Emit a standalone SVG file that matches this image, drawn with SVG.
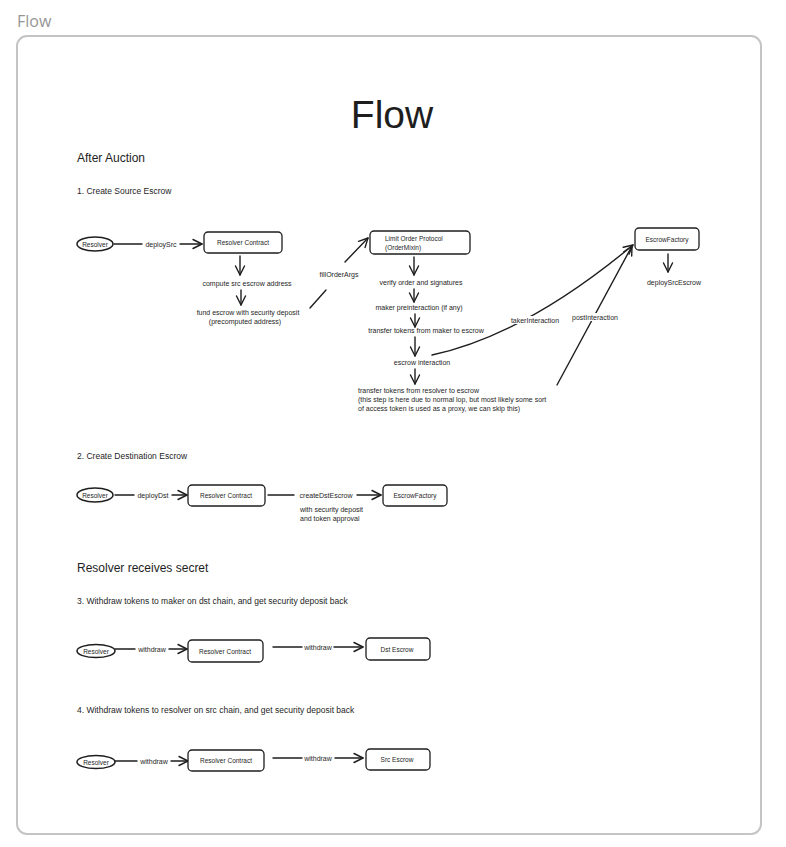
<svg xmlns="http://www.w3.org/2000/svg" width="786" height="847" viewBox="0 0 786 847">
<defs>
<marker id="arr" markerUnits="userSpaceOnUse" markerWidth="12" markerHeight="12" refX="10" refY="6" orient="auto">
<path d="M1,1.5 L10,6 L1,10.5" fill="none" stroke="#1e1e1e" stroke-width="1.4" stroke-linecap="round" stroke-linejoin="round"/>
</marker>
<style>
text{font-family:"Liberation Sans",Arial,sans-serif;fill:#1e1e1e}
.box{fill:#fff;stroke:#1e1e1e;stroke-width:1.3}
.ell{fill:#fff;stroke:#1e1e1e;stroke-width:1.5}
.nl{font-size:6.5px;text-anchor:middle}
.el{font-size:7px;text-anchor:middle}
.tl{font-size:7px}
.ln{fill:none;stroke:#1e1e1e;stroke-width:1.4;stroke-linecap:round}
.ar{fill:none;stroke:#1e1e1e;stroke-width:1.4;stroke-linecap:round;marker-end:url(#arr)}
.h2{font-size:12px}
.h3{font-size:8.5px}
.bg{fill:#fff}
</style>
</defs>
<rect width="786" height="847" fill="#fff"/>
<text x="17" y="27" style="font-family:'Open Sans','Liberation Sans',sans-serif;font-size:16px;fill:#959595">Flow</text>
<rect x="17" y="36" width="744" height="798" rx="10" fill="#fff" stroke="#c4c4c4" stroke-width="2"/>

<text x="392" y="128" style="font-size:39px;text-anchor:middle">Flow</text>
<text x="77" y="162" class="h2">After Auction</text>
<text x="77" y="194" class="h3">1. Create Source Escrow</text>
<text x="77" y="459" class="h3">2. Create Destination Escrow</text>
<text x="77" y="572" class="h2">Resolver receives secret</text>
<text x="77" y="604" class="h3">3. Withdraw tokens to maker on dst chain, and get security deposit back</text>
<text x="77" y="713" class="h3">4. Withdraw tokens to resolver on src chain, and get security deposit back</text>

<g id="connectors">
<!-- section 1 -->
<line class="ln" x1="114" y1="244" x2="142" y2="244"/>
<text class="el" x="161" y="246.5">deploySrc</text>
<line class="ar" x1="180" y1="244" x2="202" y2="244"/>
<line class="ar" x1="240" y1="256" x2="240" y2="275"/>
<text class="el" x="247" y="285.5">compute src escrow address</text>
<line class="ar" x1="241" y1="290" x2="241" y2="305"/>
<text class="el" x="248" y="315">fund escrow with security deposit</text>
<text class="el" x="245" y="324">(precomputed address)</text>
<line class="ln" x1="310" y1="308" x2="326" y2="290"/>
<text class="el" x="339" y="276.5">fillOrderArgs</text>
<line class="ar" x1="345" y1="262" x2="368" y2="238"/>
<line class="ar" x1="414" y1="257" x2="414" y2="275"/>
<text class="el" x="421" y="285">verify order and signatures</text>
<line class="ar" x1="414" y1="289" x2="414" y2="302"/>
<text class="el" x="419" y="309.5">maker preinteraction (if any)</text>
<line class="ar" x1="415" y1="314" x2="415" y2="327"/>
<text class="el" x="426" y="332.5">transfer tokens from maker to escrow</text>
<line class="ar" x1="415" y1="337" x2="415" y2="356"/>
<text class="el" x="422" y="364.5">escrow interaction</text>
<line class="ar" x1="415" y1="369" x2="415" y2="384"/>
<text class="tl" x="358" y="392.5">transfer tokens from resolver to escrow</text>
<text class="tl" x="358" y="401.5">(this step is here due to normal lop, but most likely some sort</text>
<text class="tl" x="358" y="410.5">of access token is used as a proxy, we can skip this)</text>
<path class="ar" d="M432,355 Q525,335 633,245"/>
<rect class="bg" x="507" y="316" width="57" height="8"/>
<text class="el" x="535" y="322.5">takerInteraction</text>
<line class="ar" x1="557" y1="385" x2="632" y2="246"/>
<rect class="bg" x="568" y="313" width="55" height="8"/>
<text class="el" x="595" y="319.5">postInteraction</text>
<line class="ar" x1="668" y1="254" x2="668" y2="272"/>
<text class="el" x="674" y="285">deploySrcEscrow</text>

<!-- section 2 -->
<line class="ln" x1="115" y1="495" x2="134" y2="495"/>
<text class="el" x="153" y="497.5">deployDst</text>
<line class="ar" x1="172" y1="495" x2="187" y2="495"/>
<line class="ln" x1="268" y1="495" x2="294" y2="495"/>
<text class="el" x="326" y="497.5">createDstEscrow</text>
<line class="ar" x1="357" y1="495" x2="381" y2="495"/>
<text class="tl" x="300" y="512">with security deposit</text>
<text class="tl" x="300" y="521">and token approval</text>

<!-- section 3 -->
<line class="ln" x1="115" y1="649" x2="135" y2="649"/>
<text class="el" x="152" y="651.5">withdraw</text>
<line class="ar" x1="169" y1="649" x2="187" y2="649"/>
<line class="ln" x1="273" y1="647" x2="302" y2="647"/>
<text class="el" x="318" y="649.5">withdraw</text>
<line class="ar" x1="334" y1="647" x2="363" y2="647"/>

<!-- section 4 -->
<line class="ln" x1="115" y1="761" x2="137" y2="761"/>
<text class="el" x="154" y="763.5">withdraw</text>
<line class="ar" x1="171" y1="761" x2="188" y2="761"/>
<line class="ln" x1="273" y1="758" x2="302" y2="758"/>
<text class="el" x="318" y="760.5">withdraw</text>
<line class="ar" x1="335" y1="758" x2="363" y2="758"/>
</g>

<g id="s1-resolver"><ellipse class="ell" cx="95" cy="244" rx="18" ry="7"/><text class="nl" x="95" y="246.5">Resolver</text></g>
<g id="s1-resolver-contract"><rect class="box" x="204" y="232" width="78" height="21" rx="4"/><text class="nl" x="243" y="245">Resolver Contract</text></g>
<g id="s1-lop"><rect class="box" x="370" y="231" width="100" height="23" rx="4"/><text class="nl" x="385" y="241" style="text-anchor:start">Limit Order Protocol</text><text class="nl" x="385" y="250" style="text-anchor:start">(OrderMixin)</text></g>
<g id="s1-escrow-factory"><rect class="box" x="635" y="228" width="64" height="22" rx="4"/><text class="nl" x="667" y="241.5">EscrowFactory</text></g>

<g id="s2-resolver"><ellipse class="ell" cx="95" cy="495" rx="18" ry="7"/><text class="nl" x="95" y="497.5">Resolver</text></g>
<g id="s2-resolver-contract"><rect class="box" x="188" y="485" width="77" height="21" rx="4"/><text class="nl" x="226" y="498">Resolver Contract</text></g>
<g id="s2-escrow-factory"><rect class="box" x="383" y="485" width="64" height="21" rx="4"/><text class="nl" x="415" y="498">EscrowFactory</text></g>

<g id="s3-resolver"><ellipse class="ell" cx="96" cy="651" rx="19" ry="6.5"/><text class="nl" x="96" y="653.5">Resolver</text></g>
<g id="s3-resolver-contract"><rect class="box" x="188" y="640" width="75" height="22" rx="4"/><text class="nl" x="225" y="653.5">Resolver Contract</text></g>
<g id="s3-dst-escrow"><rect class="box" x="366" y="638" width="64" height="22" rx="4"/><text class="nl" x="397" y="651.5">Dst Escrow</text></g>

<g id="s4-resolver"><ellipse class="ell" cx="96" cy="762" rx="19" ry="6.5"/><text class="nl" x="96" y="764.5">Resolver</text></g>
<g id="s4-resolver-contract"><rect class="box" x="188" y="750" width="76" height="21" rx="4"/><text class="nl" x="226" y="763">Resolver Contract</text></g>
<g id="s4-src-escrow"><rect class="box" x="366" y="749" width="64" height="21" rx="4"/><text class="nl" x="397" y="762">Src Escrow</text></g>
</svg>
